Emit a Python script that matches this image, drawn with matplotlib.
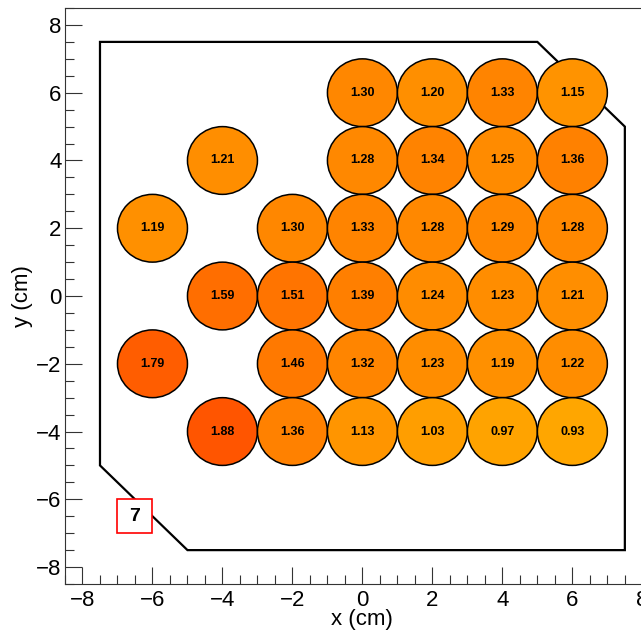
import matplotlib
matplotlib.use('Agg')
import matplotlib.pyplot as plt
from matplotlib.patches import Circle, Polygon, Rectangle
from matplotlib.colors import LinearSegmentedColormap, Normalize
from matplotlib.ticker import MultipleLocator

plt.rcParams['font.family'] = ['Liberation Sans', 'DejaVu Sans']

# detector cell centres (cm) and measured values
cell_x = [0, 2, 4, 6,
          -4, 0, 2, 4, 6,
          -6, -2, 0, 2, 4, 6,
          -4, -2, 0, 2, 4, 6,
          -6, -2, 0, 2, 4, 6,
          -4, -2, 0, 2, 4, 6]
cell_y = [6, 6, 6, 6,
          4, 4, 4, 4, 4,
          2, 2, 2, 2, 2, 2,
          0, 0, 0, 0, 0, 0,
          -2, -2, -2, -2, -2, -2,
          -4, -4, -4, -4, -4, -4]
cell_val = [1.30, 1.20, 1.33, 1.15,
            1.21, 1.28, 1.34, 1.25, 1.36,
            1.19, 1.30, 1.33, 1.28, 1.29, 1.28,
            1.59, 1.51, 1.39, 1.24, 1.23, 1.21,
            1.79, 1.46, 1.32, 1.23, 1.19, 1.22,
            1.88, 1.36, 1.13, 1.03, 0.97, 0.93]

# outline of the holder
outline_x = [-7.5, 5, 7.5, 7.5, -5, -7.5]
outline_y = [7.5, 7.5, 5, -7.5, -7.5, -5]

label = '7'

cmap = LinearSegmentedColormap.from_list('orng', ['#FFA600', '#FF5500'])
norm = Normalize(vmin=min(cell_val), vmax=max(cell_val))

fig = plt.figure(figsize=(6.41, 6.37), dpi=100)
ax = fig.add_axes([0.1014, 0.0832, 0.928, 0.9042])

ax.add_patch(Polygon(list(zip(outline_x, outline_y)), closed=True, fill=False,
                     edgecolor='black', linewidth=1.6, zorder=1))

for x, y, v in zip(cell_x, cell_y, cell_val):
    ax.add_patch(Circle((x, y), 1.0, facecolor=cmap(norm(v)), edgecolor='black',
                        linewidth=1.1, zorder=2))
    ax.text(x, y, f'{v:.2f}', ha='center', va='center', fontsize=9,
            fontweight='bold', zorder=3)

ax.add_patch(Rectangle((-7, -7), 1, 1, facecolor='white', edgecolor='red',
                       linewidth=1.2, zorder=3))
ax.text(-6.5, -6.5, label, ha='center', va='center', fontsize=14,
        fontweight='bold', zorder=4)

ax.set_xlim(-8.5, 8.5)
ax.set_ylim(-8.5, 8.5)
ax.xaxis.set_major_locator(MultipleLocator(2))
ax.xaxis.set_minor_locator(MultipleLocator(0.5))
ax.yaxis.set_major_locator(MultipleLocator(2))
ax.yaxis.set_minor_locator(MultipleLocator(0.5))
ax.tick_params(which='both', direction='in', top=False, right=False,
               labelsize=16, color='#333333')
ax.tick_params(axis='y', which='both', pad=2.5)
ax.tick_params(axis='x', which='both', pad=4)
ax.tick_params(which='major', length=12.5, width=0.8)
ax.tick_params(which='minor', length=6.3, width=0.8)
for s in ax.spines.values():
    s.set_linewidth(0.8)
    s.set_color('#333333')

ax.set_xlabel('x (cm)', fontsize=16)
ax.set_ylabel('y (cm)', fontsize=16)
ax.xaxis.set_label_coords(0.5, -0.044)
ax.yaxis.set_label_coords(-0.054, 0.5)

fig.savefig('out.png', dpi=100)
